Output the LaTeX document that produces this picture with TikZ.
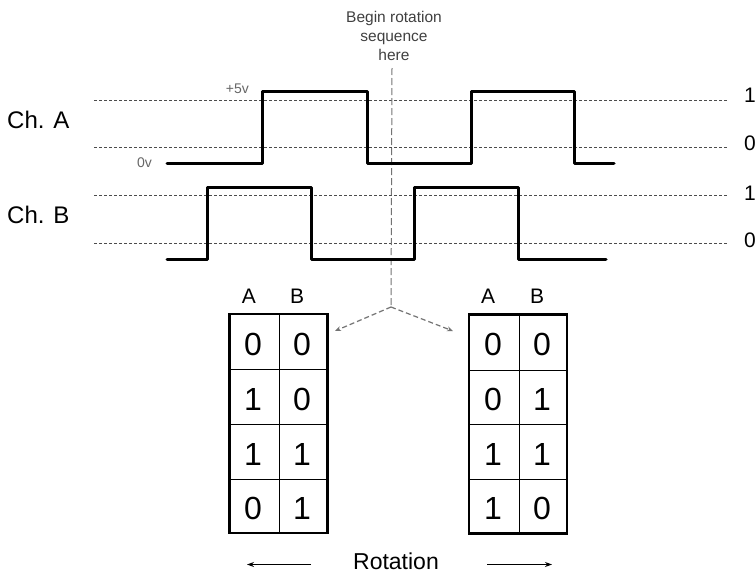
\documentclass[tikz,border=0pt]{standalone}
\usepackage{fontspec}
\setmainfont{Liberation Sans}
\usetikzlibrary{arrows.meta}
\newcommand{\fs}[1]{\fontsize{#1}{#1}\selectfont}
\begin{document}
\begin{tikzpicture}[x=1pt,y=-1pt,
  wave/.style={line width=3pt, line join=round, line cap=round},
  levelline/.style={black!70, line width=0.8pt, dash pattern=on 3pt off 2pt},
  vdash/.style={black!55, line width=1pt, dash pattern=on 7pt off 3pt},
  garrow/.style={black!55, line width=1.2pt, dash pattern=on 5pt off 3pt, -{Stealth[length=6pt,width=5pt]}},
  rotarrow/.style={black, line width=0.9pt, -{Stealth[length=7pt,width=5pt]}},
  chlabel/.style={inner sep=0pt, anchor=west, font=\fs{24}},
  lvllabel/.style={inner sep=0pt, anchor=west, font=\fs{21}},
  smalllabel/.style={inner sep=0pt, anchor=east, font=\fs{14}, text=black!60},
  tablebox/.style={draw, line width=2.5pt, minimum width=98pt, minimum height=219pt, inner sep=0pt},
  gridline/.style={line width=0.8pt},
  digit/.style={inner sep=0pt, font=\fs{32}},
  header/.style={inner sep=0pt, font=\fs{21}}
]
\useasboundingbox (0,0) rectangle (755,573);

% title
\node[inner sep=0pt, anchor=north, align=center, text=black!75, font=\fontsize{15.5}{19}\selectfont] (title) at (394,11) {Begin rotation\\sequence\\here};

% channel labels
\node[chlabel] (cha) at (7,120) {Ch. A};
\node[chlabel] (chb) at (7,215) {Ch. B};

% level lines
\draw[levelline] (94,100) -- (728,100);
\draw[levelline] (94,147.7) -- (728,147.7);
\draw[levelline] (94,195.7) -- (728,195.7);
\draw[levelline] (94,243.3) -- (728,243.3);

% level labels
\node[lvllabel] (a1) at (744,95.5) {1};
\node[lvllabel] (a0) at (744,143.5) {0};
\node[lvllabel] (b1) at (744,193.5) {1};
\node[lvllabel] (b0) at (744,240.5) {0};

\node[smalllabel] (p5) at (249,89) {+5v};
\node[smalllabel] (z0) at (152,163) {0v};

% vertical dashed line
\coordinate (vtop) at (392,68);
\coordinate (split) at (391,307);
\draw[vdash] (vtop) -- (split);

% waveforms
\draw[wave] (167,163) -- (262,163) -- (262,91) -- (367,91) -- (367,163) -- (471,163) -- (471,91) -- (574,91) -- (574,163) -- (614,163);
\draw[wave] (167,259) -- (207,259) -- (207,187) -- (311,187) -- (311,259) -- (414,259) -- (414,187) -- (518,187) -- (518,259) -- (606,259);

% left table
\node[tablebox] (ltab) at (278.5,423.5) {};
\draw[gridline] (279,314) -- (279,533);
\draw[gridline] (229,369) -- (328,369);
\draw[gridline] (229,424) -- (328,424);
\draw[gridline] (229,479) -- (328,479);
\node[header] (lha) at (249,296.7) {A};
\node[header] (lhb) at (297,296.7) {B};
\node[digit] (l11) at (253,344) {0};
\node[digit] (l12) at (302,344) {0};
\node[digit] (l21) at (253,399) {1};
\node[digit] (l22) at (302,399) {0};
\node[digit] (l31) at (253,454) {1};
\node[digit] (l32) at (302,454) {1};
\node[digit] (l41) at (253,508) {0};
\node[digit] (l42) at (302,508) {1};

% right table
\node[tablebox] (rtab) at (518,424) {};
\draw[gridline] (519,315) -- (519,533);
\draw[gridline] (469,370) -- (567,370);
\draw[gridline] (469,424) -- (567,424);
\draw[gridline] (469,479) -- (567,479);
\node[header] (rha) at (488,296.7) {A};
\node[header] (rhb) at (537,296.7) {B};
\node[digit] (r11) at (493,344) {0};
\node[digit] (r12) at (542,344) {0};
\node[digit] (r21) at (493,399) {0};
\node[digit] (r22) at (542,399) {1};
\node[digit] (r31) at (493,454) {1};
\node[digit] (r32) at (542,454) {1};
\node[digit] (r41) at (493,508) {1};
\node[digit] (r42) at (542,508) {0};

% dashed arrows
\coordinate (ltip) at (335,331);
\coordinate (rtip) at (453,331);
\draw[garrow] (split) -- (ltip);
\draw[garrow] (split) -- (rtip);

% rotation
\node[inner sep=0pt, font=\fs{23}] (rot) at (396,561) {Rotation};
\coordinate (lastart) at (311,564.5);
\coordinate (laend) at (247,564.5);
\coordinate (rastart) at (487,564.5);
\coordinate (raend) at (552,564.5);
\draw[rotarrow] (lastart) -- (laend);
\draw[rotarrow] (rastart) -- (raend);
\end{tikzpicture}
\end{document}
